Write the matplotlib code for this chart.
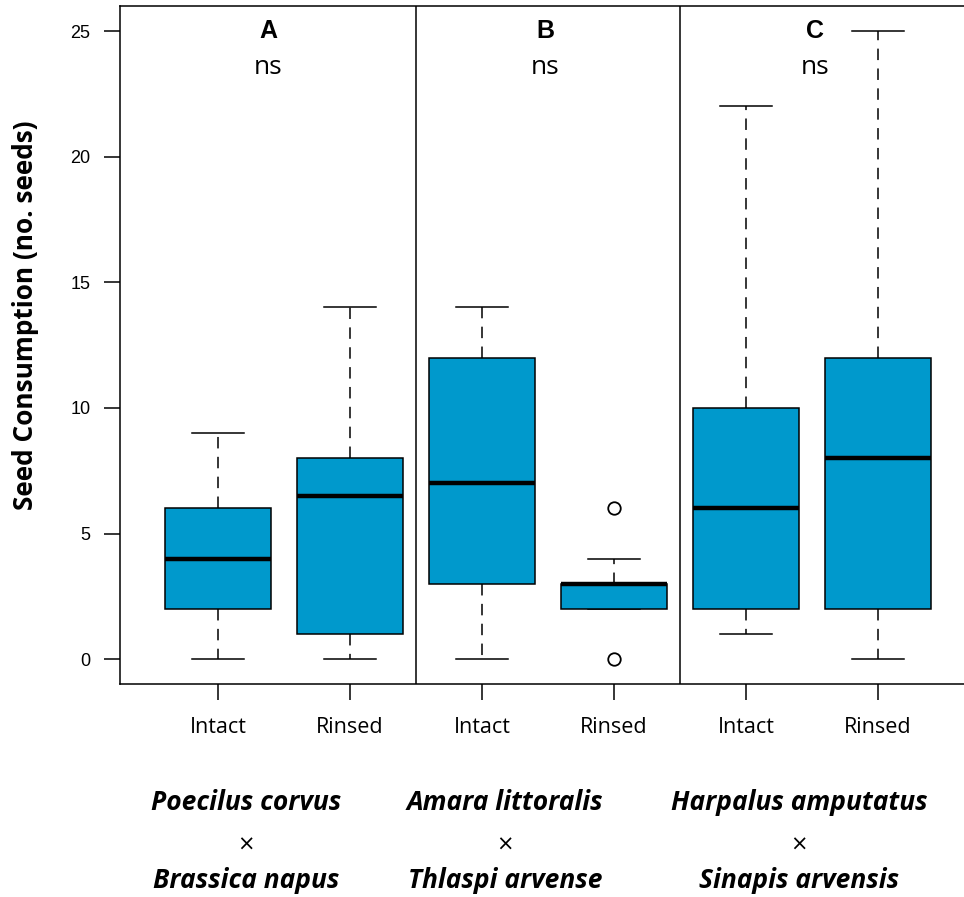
import matplotlib
matplotlib.use("Agg")
import matplotlib.pyplot as plt

# ---- data ----
groups = ["Intact", "Rinsed", "Intact", "Rinsed", "Intact", "Rinsed"]
q1 = [2, 1, 3, 2, 2, 2]
med = [4, 6.5, 7, 3, 6, 8]
q3 = [6, 8, 12, 3, 10, 12]
whislo = [0, 0, 0, 2, 1, 0]
whishi = [9, 14, 14, 4, 22, 25]
fliers = [[], [], [], [6, 0], [], []]
panel_letters = ["A", "B", "C"]
panel_sig = ["ns", "ns", "ns"]
beetles = ["Poecilus corvus", "Amara littoralis", "Harpalus amputatus"]
plants = ["Brassica napus", "Thlaspi arvense", "Sinapis arvensis"]
yticks = [0, 5, 10, 15, 20, 25]

W, H = 964, 897
fig = plt.figure(figsize=(W / 100, H / 100), dpi=100)
ax = fig.add_axes([120.3 / W, 1 - 684.4 / H, 855.4 / W, 678.5 / H])

stats = []
for i in range(len(groups)):
    stats.append(dict(q1=q1[i], med=med[i], q3=q3[i], whislo=whislo[i],
                      whishi=whishi[i], fliers=fliers[i], label=groups[i]))

fill = "#0099CC"
bp = ax.bxp(stats, positions=range(1, 7), widths=0.8, patch_artist=True,
            showfliers=True,
            boxprops=dict(facecolor=fill, edgecolor="black", linewidth=1.1),
            medianprops=dict(color="black", linewidth=3.2, solid_capstyle="butt"),
            whiskerprops=dict(color="black", linewidth=1.1, linestyle=(0, (7.5, 5.5))),
            capprops=dict(color="black", linewidth=1.1),
            capwidths=0.4,
            flierprops=dict(marker="o", markerfacecolor="none", markeredgecolor="black",
                            markersize=9, markeredgewidth=1.3))
for w in bp["whiskers"]:
    w.set_zorder(1)
for c in bp["caps"]:
    c.set_zorder(1)

ax.set_xlim(0.26, 6.74)
ax.set_ylim(-1, 26)

for xv in (2.5, 4.5):
    ax.axvline(xv, color="black", linewidth=1.1)

ax.spines["right"].set_visible(False)
for s in ("left", "top", "bottom"):
    ax.spines[s].set_linewidth(1.1)

ax.set_yticks(yticks)
ax.set_yticklabels([str(v) for v in yticks], family="Liberation Sans", fontsize=13)
ax.tick_params(axis="y", length=11.5, width=1.1, pad=10)
ax.set_xticks(range(1, 7))
ax.set_xticklabels(groups, family="Open Sans", fontsize=15.5)
ax.tick_params(axis="x", length=11.5, width=1.1, pad=12)

ax.set_ylabel("Seed Consumption (no. seeds)", family="Open Sans", fontweight="bold",
              fontsize=18.9)
ax.yaxis.label.set_va("center")
ax.yaxis.set_label_coords((26 - 120.3) / 855.4, (684.4 - 315.5) / 678.5)

letter_x = [1.38, 3.48, 5.52]
for c, let, sig in zip(letter_x, panel_letters, panel_sig):
    ax.text(c, 25, let, ha="center", va="center", family="Liberation Sans",
            fontweight="bold", fontsize=18)
    ax.text(c, 23.55, sig, ha="center", va="center", family="Open Sans", fontsize=19)

label_x = [246, 505, 799]
for lx, b, p in zip(label_x, beetles, plants):
    fig.text(lx / W, 1 - 802 / H, b, ha="center", va="center", family="Open Sans",
             fontweight="bold", style="italic", fontsize=19)
    fig.text(lx / W, 1 - 845 / H, "\u00d7", ha="center", va="center",
             family="DejaVu Sans", fontsize=15)
    fig.text(lx / W, 1 - 880 / H, p, ha="center", va="center", family="Open Sans",
             fontweight="bold", style="italic", fontsize=19)

fig.savefig("out.png", dpi=100)
